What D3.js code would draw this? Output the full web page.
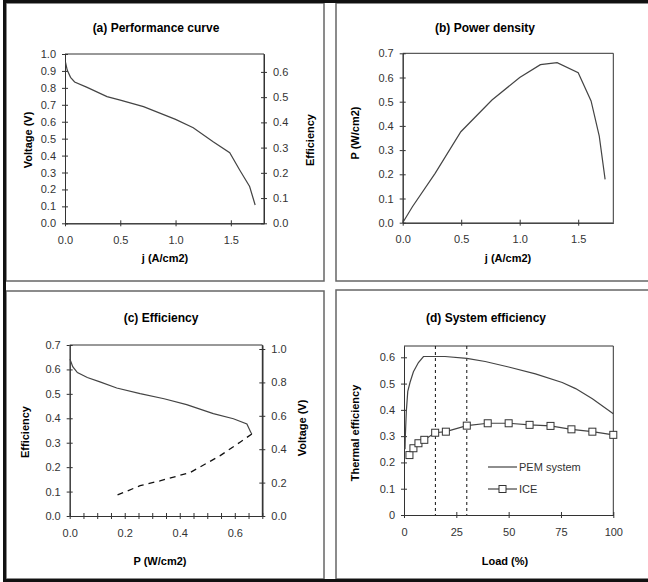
<!DOCTYPE html>
<html>
<head>
<meta charset="utf-8">
<script src="https://cdn.jsdelivr.net/npm/d3@7"></script>
<style>
  body { margin: 0; background: #fff; }
  svg { display: block; }
  text { font-family: "Liberation Sans", Arial, sans-serif; }
</style>
</head>
<body>
<div id="chart"></div>
<script>
// (a) performance curve: voltage vs current density
const perfJ = [0.005, 0.02, 0.05, 0.087, 0.2, 0.38, 0.5, 0.71, 1.0, 1.16, 1.34, 1.49, 1.58, 1.67, 1.72];
const perfV = [0.95, 0.905, 0.862, 0.835, 0.803, 0.748, 0.728, 0.689, 0.614, 0.565, 0.482, 0.417, 0.315, 0.217, 0.108];

// (b) power density vs current density
const powJ = [0, 0.083, 0.277, 0.497, 0.763, 1.0, 1.177, 1.32, 1.5, 1.61, 1.68, 1.73];
const powP = [0, 0.066, 0.204, 0.376, 0.507, 0.6, 0.653, 0.661, 0.62, 0.503, 0.358, 0.179];

// (c) efficiency vs power density (upper branch solid, lower branch dashed)
const upperP = [0.001, 0.011, 0.028, 0.064, 0.11, 0.171, 0.256, 0.343, 0.425, 0.522, 0.595, 0.644, 0.658, 0.662];
const upperEff = [0.642, 0.611, 0.587, 0.567, 0.549, 0.524, 0.501, 0.48, 0.456, 0.419, 0.398, 0.377, 0.343, 0.336];
const lowerP = [0.662, 0.619, 0.547, 0.438, 0.328, 0.256, 0.165];
const lowerEff = [0.336, 0.302, 0.247, 0.178, 0.144, 0.124, 0.082];

// (d) system efficiency vs load
const pemLoad = [0.5, 0.6, 1.1, 1.8, 2.9, 4.5, 6.9, 9.3, 19.6, 30, 38.8, 50, 62.8, 75.6, 82, 90, 100];
const pemEff = [0.25, 0.292, 0.393, 0.47, 0.505, 0.545, 0.58, 0.603, 0.603, 0.596, 0.584, 0.563, 0.537, 0.504, 0.481, 0.442, 0.385];
const iceLoad = [2.6, 4.5, 6.9, 9.7, 14.9, 20, 30, 40, 50, 60, 70, 80, 90, 100];
const iceEff = [0.228, 0.254, 0.273, 0.286, 0.313, 0.317, 0.34, 0.349, 0.349, 0.343, 0.339, 0.326, 0.317, 0.305];
const markLoads = [15, 30];

const svg = d3.select("#chart").append("svg")
    .attr("width", 648)
    .attr("height", 582);

// panel boxes
const boxes = [[6, 3, 324, 281], [336, 3, 652, 281], [6, 291, 324, 579], [336, 290, 652, 579]];
boxes.forEach(b => {
    svg.append("rect")
        .attr("x", b[0]).attr("y", b[1])
        .attr("width", b[2] - b[0]).attr("height", b[3] - b[1])
        .attr("fill", "none").attr("stroke", "#666").attr("stroke-width", 1.5);
});
// outer heavy border (top, left, bottom)
svg.append("path")
    .attr("d", "M648,1.5 H4.5 V580.5 H648")
    .attr("fill", "none").attr("stroke", "#111").attr("stroke-width", 3);

function styleAxis(g) {
    g.selectAll("path, line").attr("stroke", "#333").attr("stroke-width", 1);
    g.selectAll("text").attr("font-size", 11).attr("fill", "#333");
}

// axis with ticks crossing the line
function crossAxis(maker, innerMaker, scale, tx, ty, values, fmt, pad) {
    svg.append("g")
        .attr("transform", `translate(${tx},${ty})`)
        .call(innerMaker(scale).tickValues(values).tickSize(3).tickSizeOuter(0).tickFormat(""))
        .call(styleAxis);
    svg.append("g")
        .attr("transform", `translate(${tx},${ty})`)
        .call(maker(scale).tickValues(values).tickSize(3).tickSizeOuter(0).tickPadding(pad).tickFormat(fmt))
        .call(styleAxis);
}

function frame(x, y) {
    const [x0, x1] = x.range();
    const [y0, y1] = y.range();
    svg.append("path")
        .attr("d", `M${x0},${y1} H${x1} V${y0}`)
        .attr("fill", "none").attr("stroke", "#333").attr("stroke-width", 1);
}

function title(txt, x, y) {
    svg.append("text").attr("x", x).attr("y", y)
        .attr("text-anchor", "middle").attr("dominant-baseline", "central")
        .attr("font-size", 12).attr("font-weight", "bold").text(txt);
}

function axisTitle(txt, x, y, rotate) {
    svg.append("text")
        .attr("transform", `translate(${x},${y}) rotate(${rotate})`)
        .attr("text-anchor", "middle").attr("dominant-baseline", "central")
        .attr("font-size", 11).attr("font-weight", "bold").text(txt);
}

function curve(xs, ys, x, y) {
    return d3.line().x(d => x(d[0])).y(d => y(d[1]))(d3.zip(xs, ys));
}

const f1 = d3.format(".1f");
const oneDp = (step) => d3.range(0, 1 + step / 2, step);

// ---------- (a) ----------
const aX = d3.scaleLinear([0, 1.8], [65, 264]);
const aY = d3.scaleLinear([0, 1], [223.3, 54]);
const aY2 = d3.scaleLinear([0, 0.671], [223.3, 54]);
frame(aX, aY);
crossAxis(d3.axisLeft, d3.axisRight, aY, 65, 0, oneDp(0.1), f1, 6);
crossAxis(d3.axisRight, d3.axisLeft, aY2, 264, 0, d3.range(0, 0.65, 0.1), f1, 6);
crossAxis(d3.axisBottom, d3.axisTop, aX, 0, 223.3, [0, 0.5, 1.0, 1.5], f1, 10);
svg.append("path").attr("d", curve(perfJ, perfV, aX, aY))
    .attr("fill", "none").attr("stroke", "#444").attr("stroke-width", 1.2);
title("(a) Performance curve", 156, 28);
axisTitle("j (A/cm2)", 165, 258, 0);
axisTitle("Voltage (V)", 28, 140, -90);
axisTitle("Efficiency", 310, 140, -90);

// ---------- (b) ----------
const bX = d3.scaleLinear([0, 1.8], [402.7, 613.3]);
const bY = d3.scaleLinear([0, 0.7], [222.7, 53.3]);
frame(bX, bY);
crossAxis(d3.axisLeft, d3.axisRight, bY, 402.7, 0, d3.range(0, 0.75, 0.1), f1, 6);
crossAxis(d3.axisBottom, d3.axisTop, bX, 0, 222.7, [0, 0.5, 1.0, 1.5], f1, 10);
svg.append("path").attr("d", curve(powJ, powP, bX, bY))
    .attr("fill", "none").attr("stroke", "#444").attr("stroke-width", 1.2);
title("(b) Power density", 485, 28);
axisTitle("j (A/cm2)", 508, 258, 0);
axisTitle("P (W/cm2)", 355, 133, -90);

// ---------- (c) ----------
const cX = d3.scaleLinear([0, 0.7], [69.7, 262.3]);
const cY = d3.scaleLinear([0, 0.7], [516, 345]);
const cY2 = d3.scaleLinear([0, 1.024], [516, 345]);
frame(cX, cY);
crossAxis(d3.axisLeft, d3.axisRight, cY, 69.7, 0, d3.range(0, 0.75, 0.1), f1, 6);
crossAxis(d3.axisRight, d3.axisLeft, cY2, 262.3, 0, d3.range(0, 1.05, 0.2), f1, 6);
crossAxis(d3.axisBottom, d3.axisTop, cX, 0, 516, d3.range(0, 0.72, 0.05),
    d => (Math.round(d * 100) % 20 === 0 ? f1(d) : ""), 10);
svg.append("path").attr("d", curve(upperP, upperEff, cX, cY))
    .attr("fill", "none").attr("stroke", "#444").attr("stroke-width", 1.2);
svg.append("path").attr("d", curve(lowerP, lowerEff, cX, cY))
    .attr("fill", "none").attr("stroke", "#111").attr("stroke-width", 1.3)
    .attr("stroke-dasharray", "6,5");
title("(c) Efficiency", 161, 318);
axisTitle("P (W/cm2)", 160, 561, 0);
axisTitle("Efficiency", 25, 432, -90);
axisTitle("Voltage (V)", 302, 428, -90);

// ---------- (d) ----------
const dX = d3.scaleLinear([0, 100], [404, 613.3]);
const dY = d3.scaleLinear([0, 0.643], [515, 346]);
frame(dX, dY);
crossAxis(d3.axisLeft, d3.axisRight, dY, 404, 0, d3.range(0, 0.65, 0.1),
    d => (d === 0 ? "0" : f1(d)), 6);
crossAxis(d3.axisBottom, d3.axisTop, dX, 0, 515, [0, 25, 50, 75, 100], d3.format("d"), 10);
markLoads.forEach(v => {
    svg.append("line")
        .attr("x1", dX(v)).attr("x2", dX(v))
        .attr("y1", dY.range()[1]).attr("y2", dY.range()[0])
        .attr("stroke", "#111").attr("stroke-width", 1).attr("stroke-dasharray", "3,3");
});
svg.append("path").attr("d", curve(pemLoad, pemEff, dX, dY))
    .attr("fill", "none").attr("stroke", "#444").attr("stroke-width", 1.2);
svg.append("path").attr("d", curve(iceLoad, iceEff, dX, dY))
    .attr("fill", "none").attr("stroke", "#444").attr("stroke-width", 1.2);
svg.append("g").selectAll("rect")
    .data(d3.zip(iceLoad, iceEff))
    .join("rect")
    .attr("x", d => dX(d[0]) - 3.5).attr("y", d => dY(d[1]) - 3.5)
    .attr("width", 7).attr("height", 7)
    .attr("fill", "#fff").attr("stroke", "#333").attr("stroke-width", 1);

// legend
const legend = svg.append("g").attr("transform", "translate(488,467)");
legend.append("line").attr("x1", 0).attr("x2", 29).attr("y1", 0).attr("y2", 0)
    .attr("stroke", "#444").attr("stroke-width", 1.2);
legend.append("text").attr("x", 31).attr("y", 0).attr("dominant-baseline", "central")
    .attr("font-size", 11).attr("fill", "#333").text("PEM system");
legend.append("line").attr("x1", 0).attr("x2", 29).attr("y1", 22).attr("y2", 22)
    .attr("stroke", "#444").attr("stroke-width", 1.2);
legend.append("rect").attr("x", 11).attr("y", 18.5).attr("width", 7).attr("height", 7)
    .attr("fill", "#fff").attr("stroke", "#333");
legend.append("text").attr("x", 31).attr("y", 22).attr("dominant-baseline", "central")
    .attr("font-size", 11).attr("fill", "#333").text("ICE");

title("(d) System efficiency", 486, 318);
axisTitle("Load (%)", 505, 561, 0);
axisTitle("Thermal efficiency", 355, 433, -90);
</script>
</body>
</html>
